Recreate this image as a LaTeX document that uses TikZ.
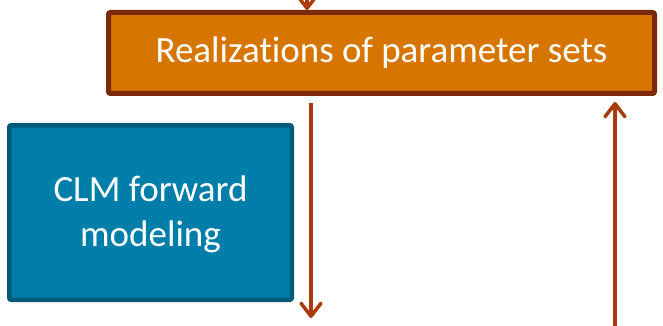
\documentclass[tikz,border=0pt]{standalone}
\usepackage{fontspec}
\setmainfont{Carlito}[Ligatures={NoCommon}]
\usetikzlibrary{arrows.meta}
\definecolor{ofill}{HTML}{D67500}
\definecolor{oline}{HTML}{7A2A08}
\definecolor{bfill}{HTML}{007EAA}
\definecolor{bline}{HTML}{005A78}
\definecolor{arrc}{HTML}{A83A0C}
\tikzset{
  obox/.style={draw=oline, fill=ofill, line width=5pt, rounded corners=2pt,
    minimum width=546pt, minimum height=81pt, text=white, inner sep=0pt,
    font=\fontsize{37}{45}\selectfont},
  bbox/.style={draw=bline, fill=bfill, line width=4.5pt, rounded corners=2pt,
    minimum width=282.5pt, minimum height=174.5pt, text=white, inner sep=0pt,
    align=center, font=\fontsize{37}{45}\selectfont},
  arr/.style={draw=arrc, line width=3.5pt,
    -{Straight Barb[length=13pt,width=20pt,line cap=round,line join=round]}}
}
\begin{document}
\begin{tikzpicture}[x=1pt,y=-1pt]
\useasboundingbox (0,0) rectangle (663,326);
\node[obox] (real) at (381.5,53) {\raisebox{-2pt}{Realizations of parameter sets}};
\node[bbox] (clm) at (150.5,212.5) {};
\node[text=white, align=center, font=\fontsize{37}{45}\selectfont, inner sep=0pt]
  (clmtext) at (150.5,214.5) {CLM forward\\modeling};
\coordinate (tin) at (307,-8);
\coordinate (dout) at (311,318);
\coordinate (uin) at (615,340);
\draw[arr] (tin) -- (tin |- real.north);
\draw[arr, shorten <=7pt] (real.south -| dout) -- (dout);
\draw[arr, shorten >=6pt] (uin) -- (uin |- real.south);
\end{tikzpicture}
\end{document}
